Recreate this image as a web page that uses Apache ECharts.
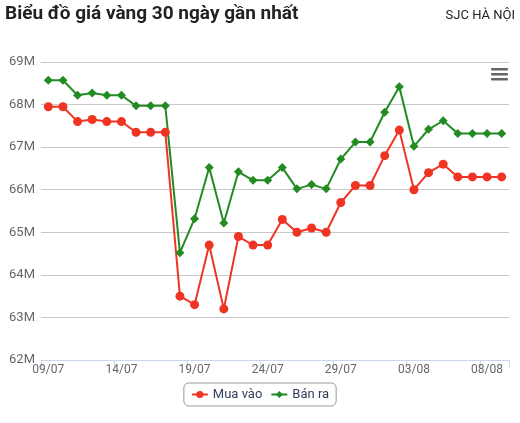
<!DOCTYPE html>
<html>
<head>
<meta charset="utf-8">
<script src="https://cdn.jsdelivr.net/npm/echarts@6/dist/echarts.min.js"></script>
<style>
html,body{margin:0;padding:0;background:#fff;}
#c{width:520px;height:423px;}
</style>
</head>
<body>
<div id="c"></div>
<script>
const categories = ["09/07","10/07","11/07","12/07","13/07","14/07","15/07","16/07","17/07","18/07","19/07","20/07","21/07","22/07","23/07","24/07","25/07","26/07","27/07","28/07","29/07","30/07","31/07","01/08","02/08","03/08","04/08","05/08","06/08","07/08","08/08","09/08"];
const muaVao = [67.95,67.95,67.6,67.65,67.6,67.6,67.35,67.35,67.35,63.5,63.3,64.7,63.2,64.9,64.7,64.7,65.3,65.0,65.1,65.0,65.7,66.1,66.1,66.8,67.4,66.0,66.4,66.6,66.3,66.3,66.3,66.3];
const banRa = [68.57,68.57,68.22,68.27,68.22,68.22,67.97,67.97,67.97,64.52,65.32,66.52,65.22,66.42,66.22,66.22,66.52,66.02,66.12,66.02,66.72,67.12,67.12,67.82,68.42,67.02,67.42,67.62,67.32,67.32,67.32,67.32];
const yTicks = [62,63,64,65,66,67,68,69];

const chart = echarts.init(document.getElementById('c'));
const font = 'Roboto, "Noto Sans", sans-serif';
chart.setOption({
  animation: false,
  textStyle: {fontFamily: font},
  title: [
    {text: 'Biểu đồ giá vàng 30 ngày gần nhất', left: 0, top: 0,
     textStyle: {fontFamily: font, fontSize: 19, fontWeight: 'bold', color: '#222'}},
    {text: 'SJC HÀ NỘI', right: 0, top: 4,
     textStyle: {fontFamily: font, fontSize: 13, fontWeight: 'normal', color: '#222'}}
  ],
  grid: {left: 41, right: 11, top: 62, bottom: 63},
  legend: {
    left: 'center', top: 383,
    data: ['Mua vào', 'Bán ra'],
    borderColor: '#999', borderWidth: 1, borderRadius: 5,
    padding: [5, 7], itemGap: 8, itemWidth: 16, itemHeight: 9,
    textStyle: {fontFamily: font, fontSize: 13, color: '#2f3f5a'}
  },
  xAxis: {
    type: 'category', data: categories, boundaryGap: true,
    axisLine: {lineStyle: {color: '#ccd6eb'}},
    axisTick: {show: true, length: 8, lineStyle: {color: '#ccd6eb'}},
    axisLabel: {interval: 4, color: '#666', fontSize: 12, fontFamily: font, margin: 4}
  },
  yAxis: {
    type: 'value', min: 62, max: 69, interval: 1,
    axisLine: {show: false}, axisTick: {show: false},
    splitLine: {lineStyle: {color: '#c8c8c8'}},
    axisLabel: {color: '#666', fontSize: 13, fontFamily: font, margin: 6,
      formatter: v => yTicks.includes(v) ? v + 'M' : ''}
  },
  graphic: [
    {type: 'rect', shape: {x: 491, y: 68, width: 17, height: 2.5, r: 1}, style: {fill: '#666'}},
    {type: 'rect', shape: {x: 491, y: 73, width: 17, height: 2.5, r: 1}, style: {fill: '#666'}},
    {type: 'rect', shape: {x: 491, y: 78, width: 17, height: 2.5, r: 1}, style: {fill: '#666'}}
  ],
  series: [
    {name: 'Mua vào', type: 'line', data: muaVao, color: '#f03424',
     symbol: 'circle', symbolSize: 9, showAllSymbol: true,
     lineStyle: {width: 2}, itemStyle: {color: '#f03424'}},
    {name: 'Bán ra', type: 'line', data: banRa, color: '#228b22',
     symbol: 'diamond', symbolSize: 9, showAllSymbol: true,
     lineStyle: {width: 2}, itemStyle: {color: '#228b22'}}
  ]
});
</script>
</body>
</html>
